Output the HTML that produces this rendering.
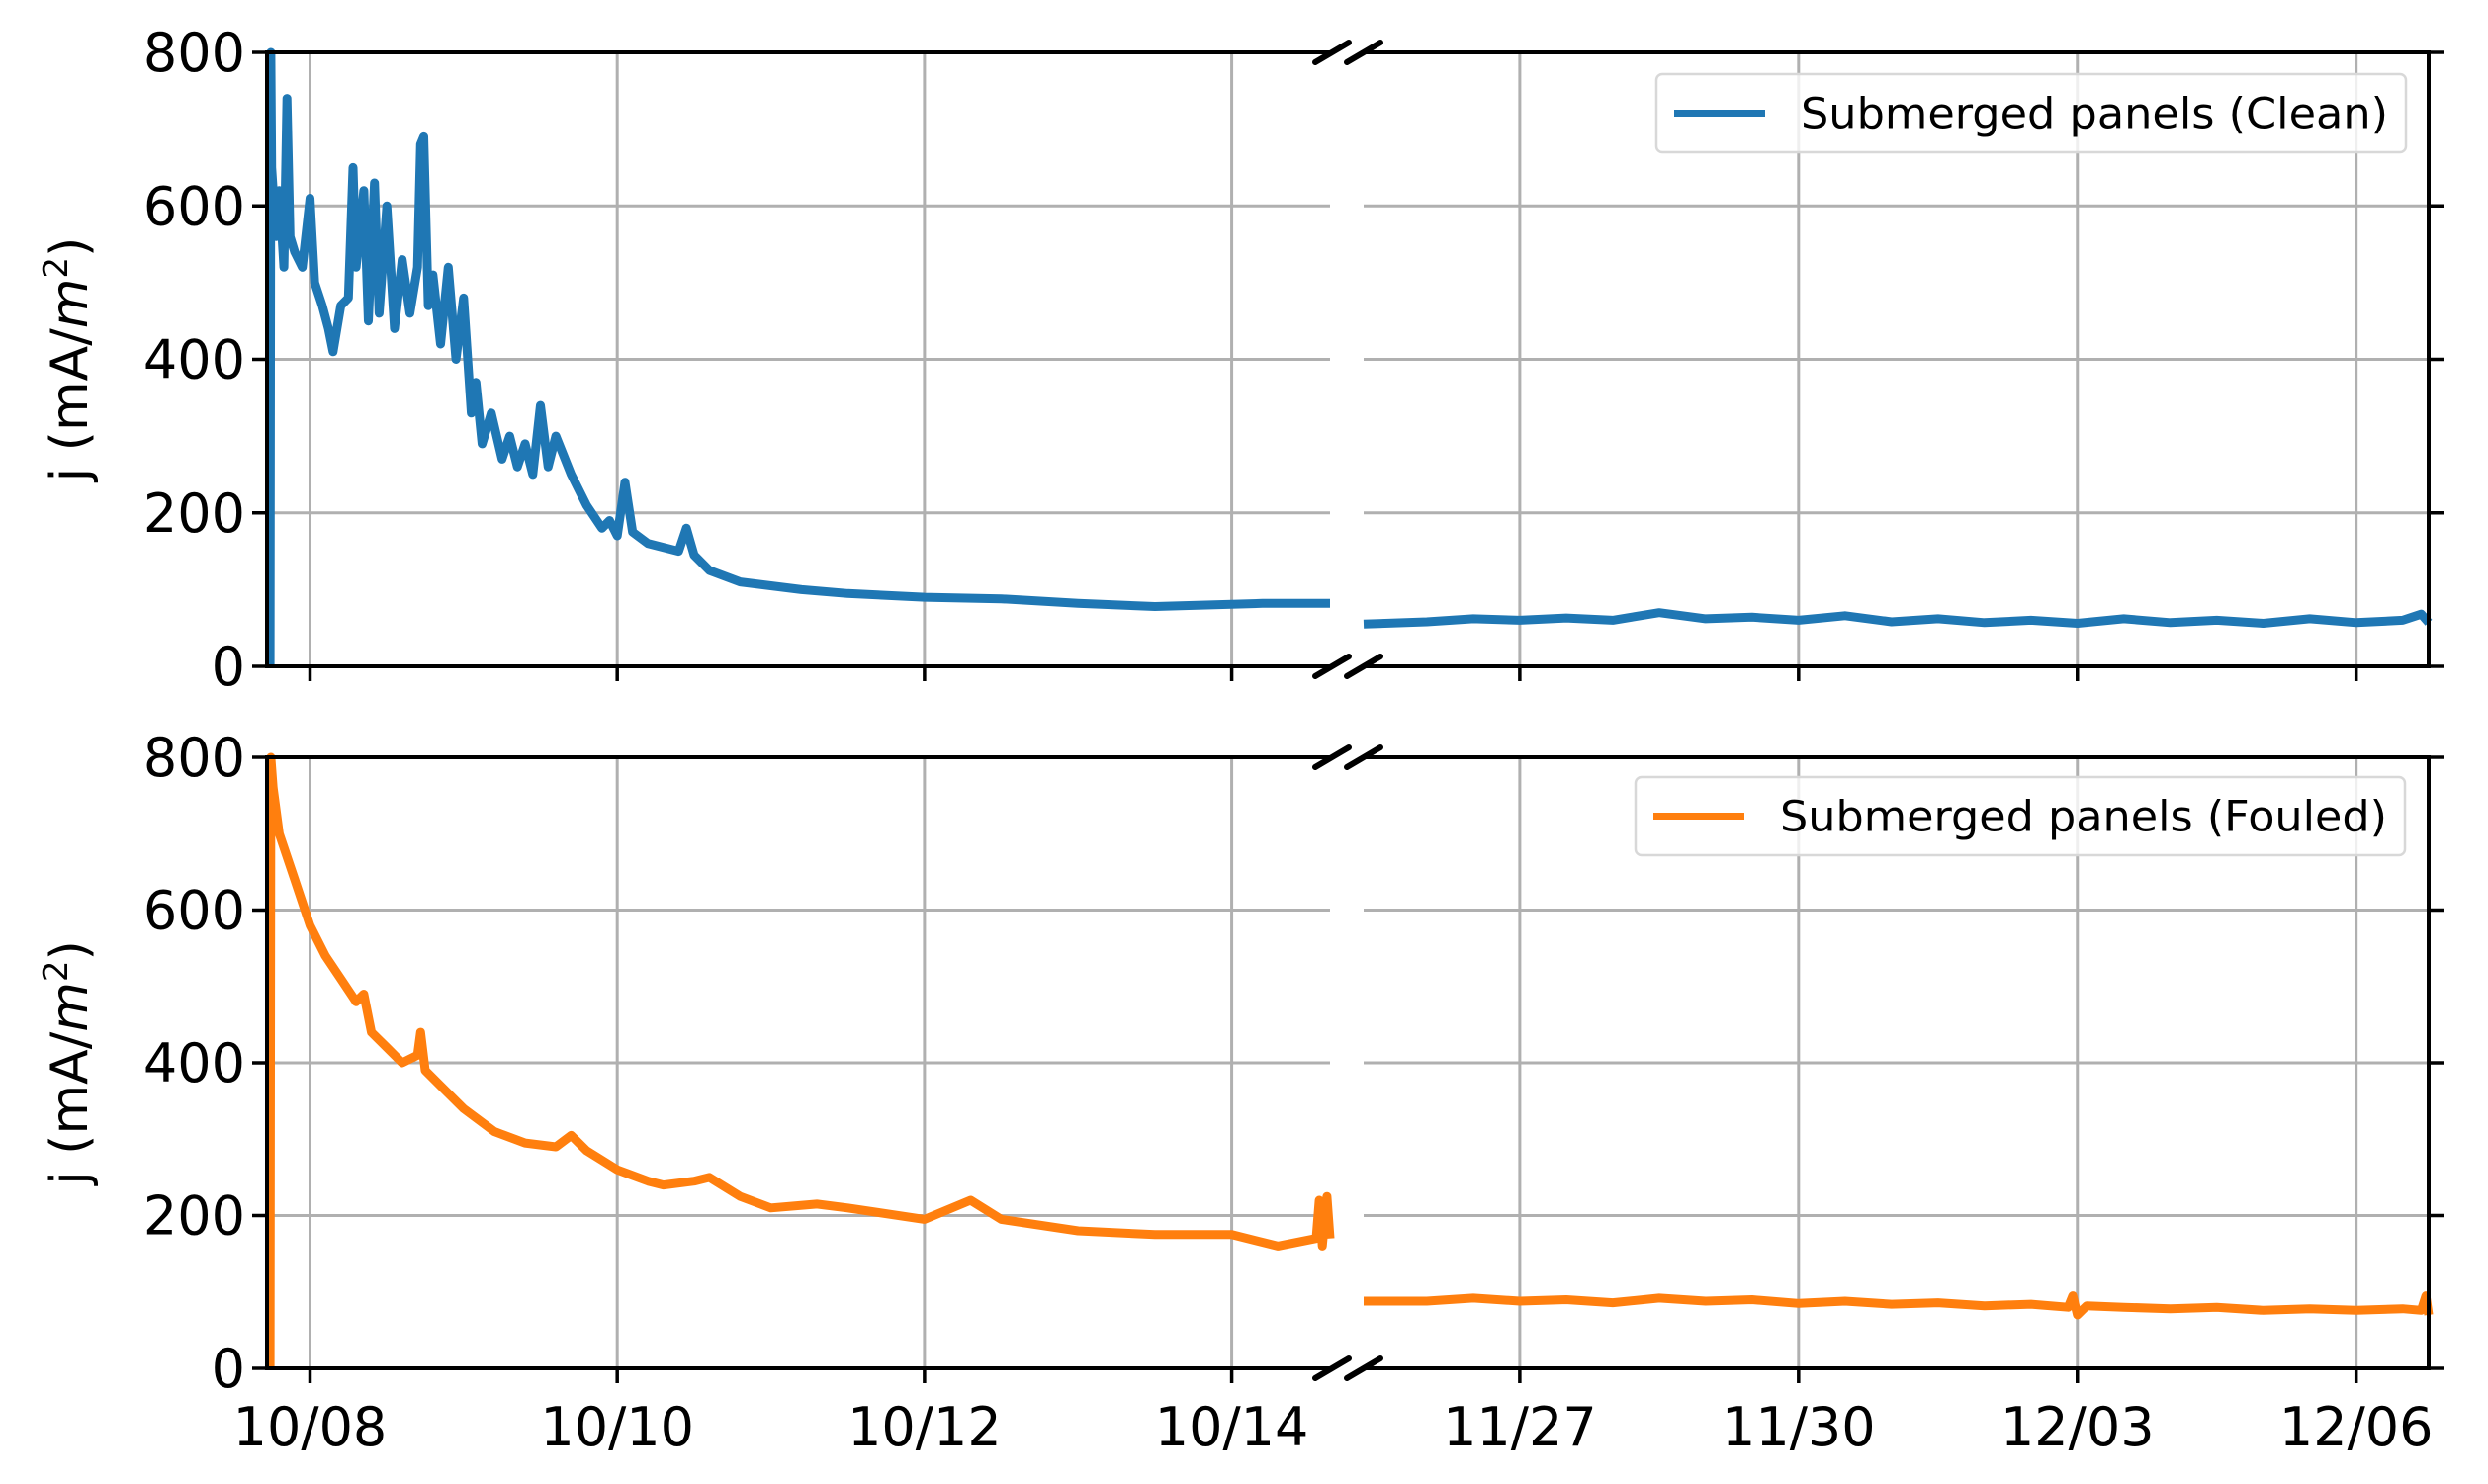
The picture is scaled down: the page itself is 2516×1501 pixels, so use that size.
<!DOCTYPE html>
<html><head><meta charset="utf-8"><style>
html,body{margin:0;padding:0;background:#fff;}
svg text{font-family:"DejaVu Sans","Liberation Sans",sans-serif;fill:#000;}
</style></head><body>
<svg id="chart" width="2516" height="1496" viewBox="0 0 2516 1496" xmlns="http://www.w3.org/2000/svg"></svg>
<script>
// Data: t = day offset (left: days since 10/07, right: day-of-November)
const yTicks=[0,200,400,600,800];
const leftTickLabels=["10/08","10/10","10/12","10/14"];
const leftTickDays=[1,3,5,7];
const rightTickLabels=["11/27","11/30","12/03","12/06"];
const rightTickDays=[27,30,33,36];
const cleanLeftT=[0.74,0.745,0.75,0.78,0.8,0.83,0.85,0.87,0.9,0.95,1.0,1.03,1.08,1.12,1.15,1.2,1.25,1.28,1.3,1.35,1.38,1.42,1.45,1.5,1.55,1.6,1.65,1.7,1.72,1.74,1.77,1.8,1.85,1.9,1.95,2.0,2.05,2.08,2.12,2.18,2.25,2.3,2.35,2.4,2.45,2.5,2.55,2.6,2.7,2.8,2.9,2.95,3.0,3.05,3.1,3.2,3.4,3.45,3.5,3.6,3.8,4.0,4.2,4.5,5.0,5.5,6.0,6.5,7.2,7.64];
const cleanLeftV=[0,800,650,560,620,520,740,560,540,520,610,500,470,440,410,470,480,650,520,620,450,630,460,600,440,530,460,520,680,690,470,510,420,520,400,480,330,370,290,330,270,300,260,290,250,340,260,300,250,210,180,190,170,240,175,160,150,180,145,125,110,105,100,95,90,88,82,78,82,82];
const cleanRightT=[25.32,26,26.5,27,27.5,28,28.5,29,29.5,30,30.5,31,31.5,32,32.5,33,33.5,34,34.5,35,35.5,36,36.5,36.7,36.78];
const cleanRightV=[55,58,62,60,63,60,70,62,64,60,66,58,62,57,60,56,62,57,60,56,62,57,60,68,57];
const fouledLeftT=[0.74,0.745,0.76,0.8,0.9,1.0,1.1,1.2,1.3,1.35,1.4,1.5,1.6,1.7,1.72,1.75,1.85,2.0,2.2,2.4,2.6,2.7,2.8,3.0,3.2,3.3,3.5,3.6,3.8,4.0,4.3,4.5,5.0,5.3,5.5,6.0,6.5,7.0,7.3,7.55,7.57,7.59,7.62,7.64];
const fouledLeftV=[0,800,760,700,640,580,540,510,480,490,440,420,400,410,440,390,370,340,310,295,290,305,285,260,245,240,245,250,225,210,215,210,195,220,195,180,175,175,160,170,220,160,225,170];
const fouledRightT=[25.32,26,26.5,27,27.5,28,28.5,29,29.5,30,30.5,31,31.5,32,32.5,32.9,32.95,33.0,33.1,33.5,34,34.5,35,35.5,36,36.5,36.7,36.75,36.78];
const fouledRightV=[88,88,92,88,90,86,92,88,90,85,88,84,86,82,84,80,95,70,82,80,78,80,76,78,76,78,76,95,70];

const NS="http://www.w3.org/2000/svg";
const svg=document.getElementById('chart');
function el(tag,attrs,parent){const e=document.createElementNS(NS,tag);for(const k in attrs)e.setAttribute(k,attrs[k]);(parent||svg).appendChild(e);return e;}
const LX0=270,LX1=1345,RX0=1379,RX1=2456;
const LD0=0.72,LD1=7.64,RD0=25.32,RD1=36.78;
function xl(d){return LX0+(d-LD0)/(LD1-LD0)*(LX1-LX0);}
function xr(d){return RX0+(d-RD0)/(RD1-RD0)*(RX1-RX0);}
const panels=[
 {top:53,bot:674,name:'clean',color:'#1f77b4',lt:cleanLeftT,lv:cleanLeftV,rt:cleanRightT,rv:cleanRightV,legend:'Submerged panels (Clean)',lg:[1675,75,2433,154],xlabels:false},
 {top:766,bot:1384,name:'fouled',color:'#ff7f0e',lt:fouledLeftT,lv:fouledLeftV,rt:fouledRightT,rv:fouledRightV,legend:'Submerged panels (Fouled)',lg:[1654,786,2432,865],xlabels:true}
];
panels.forEach(p=>{
 const g=el('g',{});
 
 
 const y=v=>p.bot-(v/800)*(p.bot-p.top);
 yTicks.forEach(v=>{
  if(v===0||v===800)return;
  const a=el('line',{x1:LX0,x2:LX1,y1:y(v),y2:y(v),stroke:'#b0b0b0','stroke-width':3},g);
  
  const b=el('line',{x1:RX0,x2:RX1,y1:y(v),y2:y(v),stroke:'#b0b0b0','stroke-width':3},g);
  
 });
 leftTickDays.forEach((d,i)=>{
  const l=el('line',{x1:xl(d),x2:xl(d),y1:p.top,y2:p.bot,stroke:'#b0b0b0','stroke-width':3},g);
  
  el('line',{x1:xl(d),x2:xl(d),y1:p.bot,y2:p.bot+15,stroke:'#000','stroke-width':3.5},g);
  if(p.xlabels){const t=el('text',{x:xl(d),y:p.bot+78,'font-size':54,'text-anchor':'middle'},g);t.textContent=leftTickLabels[i];
   }
 });
 rightTickDays.forEach((d,i)=>{
  const l=el('line',{x1:xr(d),x2:xr(d),y1:p.top,y2:p.bot,stroke:'#b0b0b0','stroke-width':3},g);
  
  el('line',{x1:xr(d),x2:xr(d),y1:p.bot,y2:p.bot+15,stroke:'#000','stroke-width':3.5},g);
  if(p.xlabels){const t=el('text',{x:xr(d),y:p.bot+78,'font-size':54,'text-anchor':'middle'},g);t.textContent=rightTickLabels[i];
   }
 });
 yTicks.forEach(v=>{
  el('line',{x1:LX0-15,x2:LX0,y1:y(v),y2:y(v),stroke:'#000','stroke-width':3.5},g);
  el('line',{x1:RX1,x2:RX1+15,y1:y(v),y2:y(v),stroke:'#000','stroke-width':3.5},g);
  const t=el('text',{x:LX0-22,y:y(v)+19,'font-size':54,'text-anchor':'end'},g);t.textContent=v;
  
 });
 const yl=el('text',{x:0,y:0,'font-size':52,'text-anchor':'middle',transform:`translate(88,${(p.top+p.bot)/2}) rotate(-90)`},g);
 yl.innerHTML='j (mA/<tspan font-style="italic">m</tspan><tspan font-size="34" dy="-20">2</tspan><tspan dy="20">)</tspan>';
 
 const dl=p.lt.map((t,i)=>(i?'L':'M')+xl(t).toFixed(1)+','+y(p.lv[i]).toFixed(1)).join('');
 const s1=el('path',{d:dl,fill:'none',stroke:p.color,'stroke-width':9,'stroke-linejoin':'round'},g);
 
 const dr=p.rt.map((t,i)=>(i?'L':'M')+xr(t).toFixed(1)+','+y(p.rv[i]).toFixed(1)).join('');
 const s2=el('path',{d:dr,fill:'none',stroke:p.color,'stroke-width':9,'stroke-linejoin':'round'},g);
 
 [[LX0,p.top,LX0,p.bot],[LX0,p.top,LX1,p.top],[LX0,p.bot,LX1,p.bot],[RX0,p.top,RX1,p.top],[RX0,p.bot,RX1,p.bot],[RX1,p.top,RX1,p.bot]].forEach(c=>{
  const s=el('line',{x1:c[0],y1:c[1],x2:c[2],y2:c[3],stroke:'#000','stroke-width':4,'stroke-linecap':'square'},g);
  
 });
 [p.top,p.bot].forEach(yy=>{
  [1347,1379].forEach(xx=>{
   const b=el('line',{x1:xx-17,y1:yy+10,x2:xx+17,y2:yy-10,stroke:'#000','stroke-width':6,'stroke-linecap':'round'},g);
   
  });
 });
 const [a,b,c,d]=p.lg;
 const lg=el('g',{},g);
 el('rect',{x:a,y:b,width:c-a,height:d-b,rx:6,fill:'#fff','fill-opacity':0.8,stroke:'#d8d8d8','stroke-width':2.5},lg);
 el('line',{x1:a+18,x2:a+110,y1:(b+d)/2,y2:(b+d)/2,stroke:p.color,'stroke-width':7},lg);
 const lt=el('text',{x:c-18,y:(b+d)/2+15,'font-size':43,'text-anchor':'end',textLength:c-a-164,lengthAdjust:'spacingAndGlyphs'},lg);lt.textContent=p.legend;
 
});
</script>
</body></html>
